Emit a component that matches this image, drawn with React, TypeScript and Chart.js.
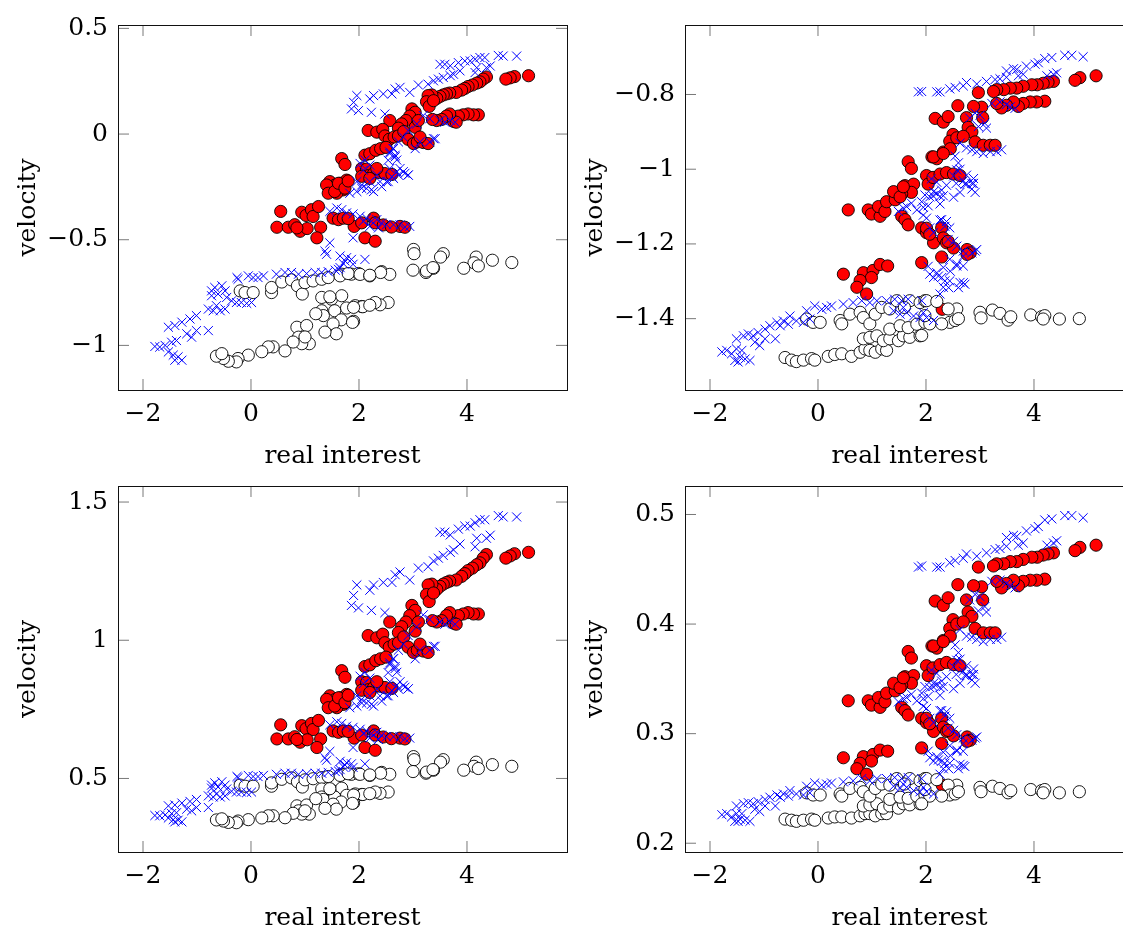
import React, { useEffect, useRef } from 'react';
import { Chart, registerables } from 'chart.js';

Chart.register(...registerables);

const FONT = "'DejaVu Serif', serif";

// ---------- tick labels ----------
const xTicks = [-2, 0, 2, 4];
const yTicksTL = [-1, -0.5, 0, 0.5];
const yTicksTR = [-1.4, -1.2, -1, -0.8];
const yTicksBL = [0.5, 1, 1.5];
const yTicksBR = [0.2, 0.3, 0.4, 0.5];

// ---------- left column (panels 1 & 3) : real interest ----------
const leftRedX = [5.14,4.88,4.80,4.72,4.36,4.30,4.24,4.18,4.10,4.02,3.96,3.90,3.80,3.68,3.62,3.56,3.50,3.44,3.35,3.28,3.25,3.30,3.38,
  4.21,4.12,4.02,3.93,3.84,3.75,3.80,3.68,3.62,3.53,3.44,3.36,
  2.98,3.04,2.94,2.87,2.79,2.57,2.73,3.04,3.10,
  2.17,2.33,2.44,2.48,2.56,2.65,2.73,2.83,2.91,3.01,3.08,3.19,3.28,3.13,
  1.68,1.74,2.11,2.20,2.31,2.40,2.50,
  2.05,2.14,2.17,2.27,2.38,2.48,2.61,2.05,1.46,1.56,1.65,1.77,1.71,1.59,1.49,1.40,1.43,1.55,1.62,1.74,1.80,2.20,2.33,
  0.55,0.48,0.69,0.81,0.91,0.94,1.02,1.12,1.15,1.25,1.29,1.22,1.04,0.85,
  1.52,1.62,1.71,1.91,2.11,2.30,2.27,2.30,2.76,2.85,2.05,2.45,2.60,1.80];
const topLeftRedY = [0.276,0.272,0.266,0.260,0.270,0.260,0.247,0.241,0.232,0.225,0.216,0.208,0.197,0.194,0.190,0.185,0.178,0.169,0.185,0.182,0.153,0.131,0.158,
  0.091,0.091,0.095,0.091,0.085,0.060,0.056,0.095,0.085,0.069,0.064,0.069,
  0.119,0.103,0.085,0.064,0.048,0.064,0.028,0.032,0.064,
  0.017,0.009,0.022,-0.009,-0.025,-0.014,-0.009,0.012,-0.025,-0.045,-0.037,-0.040,-0.045,-0.014,
  -0.116,-0.144,-0.100,-0.093,-0.077,-0.069,-0.063,
  -0.163,-0.166,-0.197,-0.187,-0.182,-0.187,-0.191,-0.200,-0.225,-0.241,-0.233,-0.218,-0.264,-0.280,-0.264,-0.241,-0.280,-0.272,-0.233,-0.256,-0.222,-0.210,-0.163,
  -0.366,-0.441,-0.441,-0.429,-0.460,-0.370,-0.385,-0.358,-0.390,-0.343,-0.441,-0.491,-0.447,-0.444,
  -0.398,-0.405,-0.398,-0.437,-0.491,-0.507,-0.398,-0.420,-0.437,-0.441,-0.420,-0.430,-0.440,-0.400];
const bottomLeftRedY = [1.318,1.313,1.305,1.297,1.310,1.297,1.280,1.273,1.261,1.252,1.241,1.231,1.218,1.214,1.209,1.203,1.195,1.184,1.203,1.200,1.165,1.140,1.171,
  1.095,1.095,1.100,1.095,1.089,1.062,1.058,1.100,1.089,1.071,1.066,1.071,
  1.126,1.108,1.089,1.066,1.049,1.066,1.028,1.033,1.066,
  1.017,1.009,1.022,0.991,0.975,0.986,0.991,1.012,0.975,0.956,0.964,0.961,0.956,0.986,
  0.890,0.866,0.905,0.911,0.926,0.933,0.939,
  0.850,0.847,0.821,0.829,0.834,0.829,0.826,0.819,0.799,0.786,0.792,0.804,0.768,0.756,0.768,0.786,0.756,0.762,0.792,0.774,0.801,0.811,0.850,
  0.694,0.643,0.643,0.651,0.631,0.691,0.680,0.699,0.677,0.710,0.643,0.612,0.640,0.641,
  0.672,0.667,0.672,0.646,0.612,0.602,0.672,0.657,0.646,0.643,0.657,0.650,0.644,0.670];

const leftWhiteX = [-0.20,-0.11,0.04,0.38,0.38,0.57,0.75,0.86,0.95,1.00,1.15,1.31,1.43,1.68,1.86,1.99,1.65,1.80,2.02,2.20,2.42,2.57,2.40,2.20,
  3.01,3.02,3.56,3.51,4.17,4.13,4.21,3.94,4.47,4.83,3.38,3.24,3.00,3.25,3.37,
  1.31,1.49,1.68,1.77,1.93,2.05,1.31,1.34,1.55,1.67,1.52,1.90,1.58,1.37,0.85,1.03,0.88,1.08,0.94,0.78,0.63,0.41,0.32,0.20,-0.05,-0.24,-0.27,-0.42,-0.51,-0.64,-0.54,2.54,2.39,2.30,2.07,1.90,1.88,1.20,2.20,1.00,1.46];
const topLeftWhiteY = [-0.742,-0.750,-0.750,-0.750,-0.726,-0.700,-0.690,-0.718,-0.757,-0.703,-0.695,-0.687,-0.679,-0.663,-0.663,-0.660,-0.671,-0.660,-0.664,-0.671,-0.651,-0.664,-0.655,-0.668,
  -0.546,-0.566,-0.566,-0.582,-0.582,-0.609,-0.624,-0.635,-0.597,-0.608,-0.635,-0.655,-0.644,-0.648,-0.632,
  -0.773,-0.781,-0.765,-0.823,-0.812,-0.816,-0.836,-0.859,-0.836,-0.879,-0.898,-0.886,-0.945,-0.937,-0.914,-0.906,-0.961,-0.992,-0.992,-0.984,-1.026,-1.007,-1.007,-1.030,-1.046,-1.062,-1.078,-1.075,-1.062,-1.051,-1.039,-0.797,-0.808,-0.797,-0.817,-0.820,-0.891,-0.850,-0.810,-0.960,-0.770];
const bottomLeftWhiteY = [0.476,0.472,0.472,0.472,0.484,0.497,0.502,0.488,0.469,0.495,0.499,0.503,0.507,0.515,0.515,0.517,0.511,0.517,0.515,0.511,0.522,0.515,0.519,0.513,
  0.579,0.568,0.568,0.559,0.559,0.544,0.536,0.530,0.550,0.544,0.530,0.519,0.525,0.523,0.532,
  0.462,0.458,0.465,0.439,0.444,0.442,0.433,0.424,0.433,0.415,0.407,0.412,0.389,0.392,0.401,0.404,0.383,0.371,0.371,0.374,0.358,0.365,0.365,0.357,0.351,0.346,0.340,0.341,0.346,0.350,0.354,0.451,0.446,0.451,0.442,0.440,0.410,0.427,0.445,0.383,0.463];

const leftBlueX = [-1.78,-1.69,-1.59,-1.47,-1.38,-1.53,-1.44,-1.35,-1.28,-1.41,-1.53,-1.41,-1.28,-1.13,-1.01,-1.19,-1.10,-1.01,-0.79,-0.79,-0.70,-0.64,-0.57,-0.48,-0.73,-0.67,-0.54,-0.73,-0.61,-0.48,-0.45,-0.36,-0.27,-0.18,-0.08,0.01,-0.24,-0.05,0.04,0.13,0.23,0.47,0.63,0.75,0.88,1.03,1.19,1.31,1.43,1.56,1.62,1.71,1.65,1.77,1.86,1.89,1.37,1.40,1.46,1.89,2.11,-0.26,1.74,1.65,
  1.46,1.59,1.68,1.77,1.89,2.02,2.14,2.23,2.33,2.42,2.51,2.64,2.76,2.94,2.08,2.20,2.36,2.85,
  2.02,2.11,2.20,1.96,2.05,2.14,2.27,2.42,2.51,2.64,2.73,2.82,2.91,2.57,2.67,2.64,2.57,2.70,
  4.92,4.67,4.58,4.33,4.24,4.15,4.06,3.96,3.84,3.69,3.59,3.50,4.36,4.43,4.18,4.15,3.87,3.75,3.69,3.56,3.47,3.38,3.28,3.10,2.94,2.76,2.67,2.61,2.45,2.27,2.20,1.96,1.90,1.86,1.99,2.23,2.48,
  3.50,3.59,3.69,3.78,3.31,3.19,3.07,3.38,3.31,3.41,3.13,3.04,2.91,2.82,2.73,2.63,2.57,2.67,2.54,2.76,2.85,2.91,2.70,2.61,2.54,2.33,2.20,2.08,2.05,1.96,1.83,2.23,2.39];
const topLeftBlueY = [-1.005,-1.008,-1.000,-0.985,-0.977,-1.031,-1.046,-1.054,-1.070,-1.070,-0.914,-0.906,-0.890,-0.875,-0.859,-0.945,-0.961,-0.930,-0.930,-0.828,-0.836,-0.812,-0.836,-0.828,-0.742,-0.726,-0.718,-0.765,-0.757,-0.742,-0.773,-0.789,-0.797,-0.797,-0.801,-0.797,-0.687,-0.671,-0.679,-0.679,-0.671,-0.663,-0.655,-0.655,-0.663,-0.660,-0.655,-0.655,-0.651,-0.644,-0.640,-0.613,-0.577,-0.585,-0.593,-0.616,-0.554,-0.569,-0.515,-0.491,-0.593,-0.679,-0.600,-0.632,
  -0.366,-0.350,-0.358,-0.373,-0.378,-0.389,-0.398,-0.413,-0.405,-0.421,-0.429,-0.429,-0.429,-0.437,-0.413,-0.437,-0.444,-0.440,
  -0.139,-0.123,-0.147,-0.225,-0.241,-0.257,-0.272,-0.249,-0.225,-0.210,-0.194,-0.178,-0.194,-0.163,-0.100,-0.069,-0.085,-0.123,
  0.369,0.369,0.372,0.362,0.362,0.354,0.346,0.346,0.338,0.323,0.330,0.330,0.314,0.322,0.314,0.291,0.299,0.283,0.276,0.268,0.260,0.252,0.236,0.232,0.197,0.221,0.213,0.190,0.190,0.182,0.166,0.182,0.150,0.119,0.111,0.103,0.095,
  0.064,0.056,0.064,0.056,0.072,0.088,0.048,-0.022,-0.037,-0.022,-0.037,-0.069,0.017,-0.014,-0.037,-0.069,-0.092,-0.108,-0.124,-0.163,-0.186,-0.194,-0.178,-0.202,-0.225,-0.194,-0.225,-0.171,-0.257,-0.272,-0.280,-0.264,-0.225];
const bottomLeftBlueY = [0.366,0.365,0.368,0.373,0.376,0.357,0.351,0.349,0.343,0.343,0.401,0.404,0.411,0.417,0.424,0.389,0.383,0.395,0.395,0.437,0.433,0.444,0.433,0.437,0.476,0.484,0.488,0.465,0.469,0.476,0.462,0.454,0.451,0.451,0.449,0.451,0.503,0.511,0.507,0.507,0.511,0.515,0.519,0.519,0.515,0.517,0.519,0.519,0.522,0.525,0.527,0.542,0.562,0.557,0.553,0.540,0.575,0.566,0.598,0.612,0.553,0.507,0.549,0.532,
  0.694,0.705,0.699,0.689,0.685,0.678,0.672,0.662,0.667,0.656,0.651,0.651,0.651,0.646,0.662,0.646,0.641,0.644,
  0.870,0.884,0.863,0.799,0.786,0.773,0.762,0.780,0.799,0.811,0.824,0.837,0.824,0.850,0.905,0.933,0.918,0.884,
  1.446,1.446,1.451,1.436,1.436,1.425,1.413,1.413,1.402,1.381,1.391,1.391,1.369,1.380,1.369,1.338,1.348,1.327,1.318,1.307,1.297,1.287,1.266,1.261,1.218,1.247,1.237,1.209,1.209,1.200,1.181,1.200,1.162,1.126,1.117,1.108,1.100,
  1.066,1.058,1.066,1.058,1.075,1.092,1.049,0.978,0.964,0.978,0.964,0.933,1.017,0.986,0.964,0.933,0.912,0.898,0.883,0.850,0.830,0.824,0.837,0.817,0.799,0.824,0.799,0.843,0.773,0.762,0.756,0.768,0.799];

// ---------- right column (panels 2 & 4) ----------
const rightRedX = [5.15,4.85,4.76,4.36,4.26,4.17,4.06,3.96,3.80,3.68,3.56,3.44,3.31,3.25,
  4.20,4.05,3.93,3.80,3.71,3.62,3.49,3.40,3.31,
  2.97,3.03,2.88,3.05,2.59,2.17,2.32,2.41,2.75,2.78,2.85,2.91,3.06,3.19,3.28,2.50,2.44,2.57,2.69,
  1.67,1.73,2.11,2.20,2.32,2.45,2.01,2.04,2.13,2.26,2.38,2.51,2.63,1.61,1.77,1.73,1.55,
  0.56,0.93,0.99,1.15,1.12,1.24,1.27,1.43,1.40,1.52,1.58,
  2.14,2.32,
  1.55,1.61,1.67,1.92,2.01,2.14,2.29,2.32,2.38,2.51,2.76,2.82,2.76,1.92,2.29,
  0.47,0.84,1.02,1.15,1.29,0.99,0.78,0.72,0.90,
  2.01,2.07,2.41,2.30];
const topRightRedY = [-0.750,-0.755,-0.762,-0.765,-0.767,-0.770,-0.774,-0.774,-0.778,-0.783,-0.783,-0.787,-0.787,-0.792,
  -0.818,-0.820,-0.820,-0.824,-0.832,-0.820,-0.829,-0.836,-0.824,
  -0.795,-0.834,-0.832,-0.862,-0.830,-0.864,-0.874,-0.859,-0.862,-0.888,-0.900,-0.927,-0.936,-0.936,-0.936,-0.907,-0.925,-0.916,-0.912,
  -0.980,-0.998,-0.967,-0.972,-0.954,-0.945,-1.017,-1.040,-1.022,-1.013,-1.009,-1.013,-1.017,-1.044,-1.040,-1.062,-1.066,
  -1.109,-1.109,-1.120,-1.126,-1.100,-1.113,-1.087,-1.082,-1.060,-1.074,-1.047,
  -0.967,-0.958,
  -1.126,-1.135,-1.149,-1.157,-1.170,-1.197,-1.157,-1.184,-1.197,-1.211,-1.215,-1.224,-1.228,-1.250,-1.235,
  -1.281,-1.277,-1.271,-1.255,-1.259,-1.290,-1.298,-1.316,-1.334,
  -1.158,-1.174,-1.193,-1.375];
const bottomRightRedY = [0.472,0.470,0.467,0.465,0.464,0.463,0.461,0.461,0.459,0.457,0.457,0.455,0.455,0.453,
  0.441,0.440,0.440,0.439,0.435,0.440,0.437,0.433,0.439,
  0.452,0.434,0.435,0.422,0.436,0.421,0.417,0.424,0.422,0.411,0.407,0.396,0.392,0.392,0.392,0.404,0.396,0.400,0.402,
  0.375,0.369,0.380,0.378,0.385,0.389,0.362,0.353,0.360,0.363,0.365,0.363,0.362,0.352,0.353,0.346,0.344,
  0.330,0.330,0.326,0.324,0.333,0.329,0.337,0.339,0.346,0.342,0.351,
  0.380,0.384,
  0.324,0.321,0.317,0.314,0.310,0.302,0.314,0.306,0.302,0.298,0.297,0.294,0.293,0.287,0.291,
  0.278,0.279,0.281,0.285,0.284,0.275,0.273,0.268,0.263,
  0.314,0.309,0.303,0.253];

const rightWhiteX = [-0.61,-0.49,-0.40,-0.27,-0.12,-0.06,0.19,0.31,0.44,0.62,0.78,0.87,0.96,1.06,1.18,1.27,
  0.84,0.96,1.09,1.21,1.33,1.49,1.58,1.70,1.89,
  1.33,1.52,1.67,1.83,1.98,
  -0.21,-0.09,0.04,0.41,0.44,0.59,0.78,0.84,0.96,1.06,1.18,1.33,1.46,1.70,1.89,1.98,
  3.00,3.02,3.23,3.37,3.52,3.57,3.94,4.14,4.20,4.17,4.47,4.84,
  2.57,2.41,2.44,2.54,2.29,2.07,2.01,2.20,1.92,1.98,1.60,2.60];
const topRightWhiteY = [-1.504,-1.511,-1.515,-1.511,-1.507,-1.511,-1.501,-1.496,-1.494,-1.501,-1.490,-1.481,-1.485,-1.490,-1.481,-1.485,
  -1.454,-1.450,-1.446,-1.459,-1.454,-1.459,-1.446,-1.450,-1.446,
  -1.428,-1.419,-1.424,-1.415,-1.410,
  -1.401,-1.410,-1.410,-1.405,-1.414,-1.388,-1.383,-1.397,-1.414,-1.388,-1.370,-1.374,-1.352,-1.352,-1.357,-1.352,
  -1.383,-1.398,-1.377,-1.386,-1.404,-1.395,-1.390,-1.395,-1.392,-1.401,-1.401,-1.400,
  -1.374,-1.374,-1.410,-1.405,-1.414,-1.414,-1.352,-1.354,-1.445,-1.392,-1.370,-1.400];
const bottomRightWhiteY = [0.222,0.221,0.220,0.221,0.222,0.221,0.223,0.224,0.224,0.223,0.225,0.227,0.227,0.225,0.227,0.227,
  0.234,0.235,0.236,0.232,0.234,0.232,0.236,0.235,0.236,
  0.240,0.242,0.241,0.243,0.244,
  0.246,0.244,0.244,0.245,0.243,0.250,0.251,0.247,0.243,0.250,0.254,0.253,0.259,0.259,0.257,0.259,
  0.251,0.247,0.252,0.250,0.246,0.248,0.249,0.248,0.249,0.246,0.246,0.247,
  0.253,0.253,0.244,0.245,0.243,0.243,0.259,0.258,0.236,0.249,0.254,0.247];

const rightBlueX = [4.91,4.70,4.57,4.33,4.20,4.08,4.02,3.86,3.68,3.62,3.49,3.71,3.80,3.49,3.37,3.28,3.12,2.94,2.75,2.69,2.54,2.44,2.26,2.20,1.92,1.86,4.36,4.42,4.24,
  3.56,3.49,3.65,3.37,3.22,3.00,3.09,3.12,2.97,2.91,2.81,
  2.63,2.75,2.85,2.94,3.06,3.19,3.31,3.40,2.54,2.60,2.63,2.51,2.75,2.85,2.91,2.63,2.51,2.32,2.13,2.04,1.95,2.26,2.69,2.10,2.20,2.57,2.75,2.88,2.85,2.38,2.29,2.20,2.07,1.98,1.92,1.83,1.73,1.64,1.58,1.49,
  2.29,2.38,2.44,2.41,2.51,2.57,2.69,2.85,2.94,2.07,2.14,2.44,2.57,2.69,2.32,2.20,2.07,2.29,2.44,2.63,2.72,2.32,2.26,
  2.72,2.56,2.88,2.26,2.14,1.95,2.01,2.26,2.35,2.57,2.45,2.35,2.23,2.14,2.42,2.60,2.69,2.69,2.91,
  -1.78,-1.69,-1.60,-1.51,-1.41,-1.54,-1.44,-1.35,-1.26,-1.48,-1.51,-1.38,-1.29,-1.20,-1.11,-0.98,-1.17,-1.08,-0.98,-0.79,-0.89,-0.76,-0.64,-0.52,-0.40,-0.27,-0.15,-0.55,-0.70,-0.21,-0.06,0.07,0.16,0.25,0.47,0.65,0.81,0.96,1.09,1.27,1.42,1.55,1.67,1.40,1.52,1.64,1.77,1.89,1.58,1.95,2.04,2.01,2.14,1.92];
const topRightBlueY = [-0.699,-0.695,-0.695,-0.701,-0.704,-0.715,-0.719,-0.724,-0.733,-0.731,-0.737,-0.750,-0.746,-0.754,-0.758,-0.760,-0.765,-0.772,-0.768,-0.777,-0.781,-0.785,-0.793,-0.793,-0.792,-0.793,-0.746,-0.742,-0.750,
  -0.833,-0.827,-0.837,-0.820,-0.824,-0.855,-0.877,-0.890,-0.886,-0.850,-0.863,
  -0.930,-0.943,-0.948,-0.953,-0.958,-0.953,-0.953,-0.948,-0.965,-0.983,-1.000,-1.018,-1.040,-1.053,-1.062,-1.062,-1.075,-1.071,-1.071,-1.098,-1.102,-1.093,-1.031,-1.026,-1.035,-1.002,-1.016,-1.025,-1.038,-1.043,-1.056,-1.065,-1.074,-1.069,-1.087,-1.109,-1.091,-1.100,-1.104,-1.113,
  -1.135,-1.140,-1.157,-1.188,-1.193,-1.206,-1.219,-1.224,-1.215,-1.157,-1.170,-1.241,-1.254,-1.259,-1.263,-1.277,-1.281,-1.290,-1.299,-1.303,-1.308,-1.316,-1.334,
  -1.040,-1.038,-1.038,-1.073,-1.060,-1.123,-1.131,-1.136,-1.153,-1.259,-1.273,-1.299,-1.286,-1.290,-1.317,-1.317,-1.304,-1.233,-1.219,
  -1.489,-1.485,-1.494,-1.481,-1.485,-1.512,-1.503,-1.508,-1.512,-1.516,-1.454,-1.446,-1.441,-1.446,-1.437,-1.428,-1.463,-1.472,-1.454,-1.454,-1.419,-1.410,-1.406,-1.393,-1.406,-1.410,-1.401,-1.415,-1.419,-1.379,-1.366,-1.375,-1.370,-1.366,-1.361,-1.357,-1.352,-1.357,-1.352,-1.352,-1.348,-1.352,-1.348,-1.379,-1.388,-1.384,-1.393,-1.397,-1.370,-1.384,-1.260,-1.397,-1.405,-1.352];
const bottomRightBlueY = [0.497,0.499,0.499,0.496,0.495,0.489,0.487,0.485,0.480,0.481,0.479,0.472,0.474,0.471,0.469,0.468,0.465,0.462,0.464,0.460,0.458,0.456,0.452,0.452,0.453,0.452,0.474,0.476,0.472,
  0.435,0.437,0.433,0.440,0.439,0.425,0.416,0.411,0.412,0.427,0.422,
  0.395,0.389,0.388,0.386,0.384,0.386,0.386,0.388,0.381,0.374,0.368,0.361,0.353,0.349,0.346,0.346,0.341,0.343,0.343,0.334,0.332,0.335,0.357,0.358,0.355,0.367,0.362,0.359,0.354,0.352,0.348,0.345,0.342,0.343,0.337,0.330,0.336,0.333,0.332,0.329,
  0.321,0.320,0.314,0.305,0.303,0.299,0.296,0.294,0.297,0.314,0.310,0.289,0.285,0.284,0.283,0.279,0.278,0.275,0.273,0.272,0.270,0.268,0.263,
  0.353,0.354,0.354,0.342,0.346,0.325,0.323,0.321,0.316,0.284,0.280,0.273,0.276,0.275,0.268,0.268,0.271,0.291,0.296,
  0.226,0.227,0.224,0.227,0.227,0.220,0.222,0.221,0.220,0.220,0.234,0.236,0.237,0.236,0.238,0.240,0.231,0.229,0.234,0.234,0.242,0.244,0.245,0.248,0.245,0.244,0.246,0.243,0.242,0.252,0.255,0.253,0.254,0.255,0.256,0.257,0.259,0.257,0.259,0.259,0.260,0.259,0.260,0.252,0.250,0.251,0.248,0.247,0.254,0.251,0.284,0.247,0.245,0.259];

// ---------- helpers ----------
function zip(xs: number[], ys: number[]) {
  const n = Math.min(xs.length, ys.length);
  const out: { x: number; y: number }[] = [];
  for (let i = 0; i < n; i++) out.push({ x: xs[i], y: ys[i] });
  return out;
}

const fmt = (v: any) => String(Math.round(Number(v) * 1000) / 1000).replace('-', '\u2212');

const framePlugin = {
  id: 'pgfFrame',
  afterDraw(chart: any) {
    const { ctx, chartArea: a } = chart;
    const xs = chart.scales.x;
    const ys = chart.scales.y;
    const L = 11;
    ctx.save();
    ctx.strokeStyle = '#6a6a6a';
    ctx.lineWidth = 0.9;
    ctx.beginPath();
    xs.ticks.forEach((t: any) => {
      const p = xs.getPixelForValue(t.value);
      ctx.moveTo(p, a.bottom); ctx.lineTo(p, a.bottom - L);
      ctx.moveTo(p, a.top); ctx.lineTo(p, a.top + L);
    });
    ys.ticks.forEach((t: any) => {
      const p = ys.getPixelForValue(t.value);
      ctx.moveTo(a.left, p); ctx.lineTo(a.left + L, p);
      ctx.moveTo(a.right, p); ctx.lineTo(a.right - L, p);
    });
    ctx.stroke();
    ctx.strokeStyle = '#111';
    ctx.lineWidth = 1;
    ctx.strokeRect(Math.round(a.left) + 0.5, Math.round(a.top) + 0.5,
      Math.round(a.right - a.left), Math.round(a.bottom - a.top));
    ctx.restore();
  },
};

type Spec = {
  left: number; top: number; height: number;
  yMin: number; yMax: number; yTicks: number[];
  blue: { x: number; y: number }[];
  white: { x: number; y: number }[];
  red: { x: number; y: number }[];
};

const X_MIN = -2.463;
const X_MAX = 5.852;
const CW = 575;

const PANELS: Spec[] = [
  { left: 0, top: 0, height: 472, yMin: -1.211, yMax: 0.516, yTicks: yTicksTL,
    blue: zip(leftBlueX, topLeftBlueY), white: zip(leftWhiteX, topLeftWhiteY), red: zip(leftRedX, topLeftRedY) },
  { left: 567, top: 0, height: 472, yMin: -1.591, yMax: -0.614, yTicks: yTicksTR,
    blue: zip(rightBlueX, topRightBlueY), white: zip(rightWhiteX, topRightWhiteY), red: zip(rightRedX, topRightRedY) },
  { left: 0, top: 461, height: 473, yMin: 0.234, yMax: 1.558, yTicks: yTicksBL,
    blue: zip(leftBlueX, bottomLeftBlueY), white: zip(leftWhiteX, bottomLeftWhiteY), red: zip(leftRedX, bottomLeftRedY) },
  { left: 567, top: 461, height: 473, yMin: 0.192, yMax: 0.526, yTicks: yTicksBR,
    blue: zip(rightBlueX, bottomRightBlueY), white: zip(rightWhiteX, bottomRightWhiteY), red: zip(rightRedX, bottomRightRedY) },
];

function Panel({ spec }: { spec: Spec }) {
  const ref = useRef<HTMLCanvasElement | null>(null);
  useEffect(() => {
    if (!ref.current) return;
    const tickFont = { family: FONT, size: 25 };
    const chart = new Chart(ref.current, {
      type: 'scatter',
      data: {
        datasets: [
          { label: 'blue', data: spec.blue, pointStyle: 'crossRot', pointRadius: 6.4,
            pointBorderWidth: 1, pointBorderColor: '#0000ff', pointBackgroundColor: '#0000ff',
            showLine: false, clip: false } as any,
          { label: 'white', data: spec.white, pointStyle: 'circle', pointRadius: 6.1,
            pointBorderWidth: 0.9, pointBorderColor: '#000000', pointBackgroundColor: '#ffffff',
            showLine: false, clip: false } as any,
          { label: 'red', data: spec.red, pointStyle: 'circle', pointRadius: 6.1,
            pointBorderWidth: 0.9, pointBorderColor: '#000000', pointBackgroundColor: '#ff0000',
            showLine: false, clip: false } as any,
        ],
      },
      options: {
        animation: false,
        responsive: false,
        maintainAspectRatio: false,
        events: [],
        devicePixelRatio: 1,
        layout: { padding: { top: 22, right: 8, left: 0, bottom: 0 } },
        plugins: { legend: { display: false }, tooltip: { enabled: false }, title: { display: false } },
        scales: {
          x: {
            type: 'linear', min: X_MIN, max: X_MAX,
            grid: { display: false, drawTicks: false },
            border: { display: false },
            ticks: { font: tickFont, color: '#000', padding: 9, maxRotation: 0, callback: fmt },
            afterBuildTicks: (s: any) => { s.ticks = xTicks.map((v) => ({ value: v })); },
            afterFit: (s: any) => { s.height = 82; },
            title: { display: true, text: 'real interest', color: '#000',
              font: { family: FONT, size: 25, lineHeight: 1.2 }, padding: { top: 0, bottom: 1 } },
          },
          y: {
            type: 'linear', min: spec.yMin, max: spec.yMax,
            grid: { display: false, drawTicks: false },
            border: { display: false },
            ticks: { font: tickFont, color: '#000', padding: 10, callback: fmt },
            afterBuildTicks: (s: any) => { s.ticks = spec.yTicks.map((v) => ({ value: v })); },
            afterFit: (s: any) => { s.width = 118; },
            title: { display: true, text: 'velocity', color: '#000',
              font: { family: FONT, size: 25, lineHeight: 1.2 }, padding: { top: 13, bottom: 0 } },
          },
        },
      } as any,
      plugins: [framePlugin],
    });
    return () => chart.destroy();
  }, [spec]);
  return (
    <canvas
      ref={ref}
      width={CW}
      height={spec.height}
      style={{ position: 'absolute', left: spec.left, top: spec.top, width: CW, height: spec.height }}
    />
  );
}

export default function App() {
  return (
    <div style={{ position: 'fixed', left: 0, top: 0, width: 1123, height: 929, overflow: 'hidden', background: '#ffffff' }}>
      {PANELS.map((p, i) => (
        <Panel key={i} spec={p} />
      ))}
    </div>
  );
}
